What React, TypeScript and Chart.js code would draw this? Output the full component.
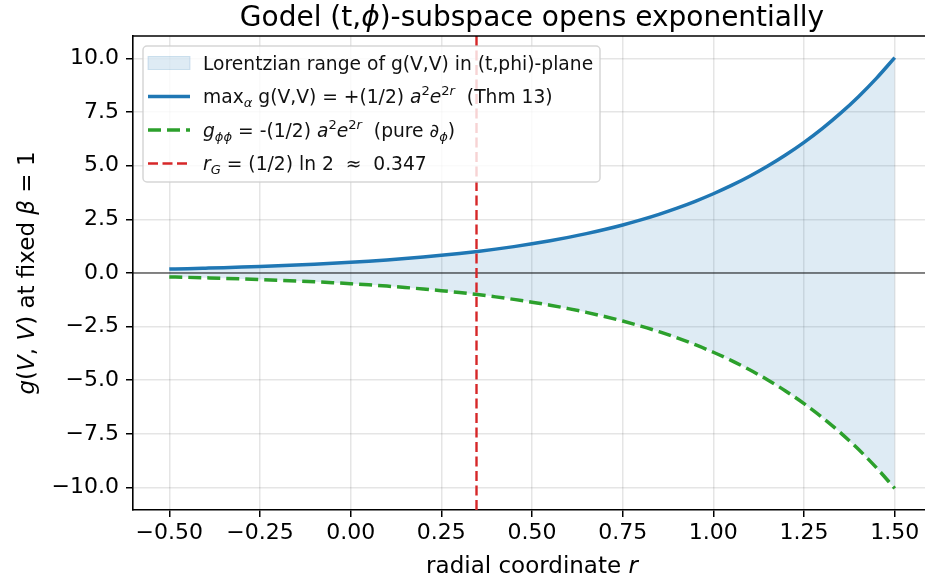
import React, { useEffect, useRef } from "react";
import { Chart, registerables } from "chart.js";

Chart.register(...registerables);

// ---- data ----
const R_VALUES = [
  -0.5, -0.45, -0.4, -0.35, -0.3, -0.25, -0.2, -0.15, -0.1, -0.05,
  0.0, 0.05, 0.1, 0.15, 0.2, 0.25, 0.3, 0.35, 0.4, 0.45,
  0.5, 0.55, 0.6, 0.65, 0.7, 0.75, 0.8, 0.85, 0.9, 0.95,
  1.0, 1.05, 1.1, 1.15, 1.2, 1.25, 1.3, 1.35, 1.4, 1.45, 1.5,
];
const G_MAX = [
  0.184, 0.203, 0.225, 0.248, 0.274, 0.303, 0.335, 0.37, 0.409, 0.452,
  0.5, 0.553, 0.611, 0.675, 0.746, 0.824, 0.911, 1.007, 1.113, 1.23,
  1.359, 1.502, 1.66, 1.834, 2.028, 2.241, 2.477, 2.737, 3.025, 3.343,
  3.695, 4.083, 4.513, 4.987, 5.512, 6.091, 6.732, 7.44, 8.222, 9.087, 10.043,
];
const G_PHIPHI = [
  -0.184, -0.203, -0.225, -0.248, -0.274, -0.303, -0.335, -0.37, -0.409, -0.452,
  -0.5, -0.553, -0.611, -0.675, -0.746, -0.824, -0.911, -1.007, -1.113, -1.23,
  -1.359, -1.502, -1.66, -1.834, -2.028, -2.241, -2.477, -2.737, -3.025, -3.343,
  -3.695, -4.083, -4.513, -4.987, -5.512, -6.091, -6.732, -7.44, -8.222, -9.087, -10.043,
];
const R_G = 0.347;
const X_TICKS = [-0.5, -0.25, 0, 0.25, 0.5, 0.75, 1.0, 1.25, 1.5];
const Y_TICKS = [-10, -7.5, -5, -2.5, 0, 2.5, 5, 7.5, 10];
const X_MIN = -0.6;
const X_MAX = 1.6;
const Y_MIN = -11.05;
const Y_MAX = 11.05;

const FAMILY = '"DejaVu Sans"';

type Seg = { t: string; it?: boolean; sub?: boolean; sup?: boolean };

const TITLE: Seg[] = [
  { t: "Godel (t," },
  { t: "ϕ", it: true },
  { t: ")-subspace opens exponentially" },
];
const X_LABEL: Seg[] = [{ t: "radial coordinate " }, { t: "r", it: true }];
const Y_LABEL: Seg[] = [
  { t: "g", it: true },
  { t: "(" },
  { t: "V", it: true },
  { t: ", " },
  { t: "V", it: true },
  { t: ")" },
  { t: " at fixed " },
  { t: "β", it: true },
  { t: " = 1" },
];
const LEGEND_ROWS: Seg[][] = [
  [{ t: "Lorentzian range of g(V,V) in (t,phi)-plane" }],
  [
    { t: "max" },
    { t: "α", it: true, sub: true },
    { t: " g(V,V) = +(1/2) " },
    { t: "a", it: true },
    { t: "2", sup: true },
    { t: "e", it: true },
    { t: "2", sup: true },
    { t: "r", it: true, sup: true },
    { t: "  (Thm 13)" },
  ],
  [
    { t: "g", it: true },
    { t: "ϕϕ", it: true, sub: true },
    { t: " = -(1/2) " },
    { t: "a", it: true },
    { t: "2", sup: true },
    { t: "e", it: true },
    { t: "2", sup: true },
    { t: "r", it: true, sup: true },
    { t: "  (pure " },
    { t: "∂", it: true },
    { t: "ϕ", it: true, sub: true },
    { t: ")" },
  ],
  [
    { t: "r", it: true },
    { t: "G", it: true, sub: true },
    { t: " = (1/2) ln 2  ≈  0.347" },
  ],
];

function segFont(seg: Seg, size: number) {
  const s = seg.sub || seg.sup ? size * 0.7 : size;
  return `${seg.it ? "italic " : ""}${s}px ${FAMILY}`;
}

function richWidth(ctx: CanvasRenderingContext2D, segs: Seg[], size: number) {
  let w = 0;
  for (const seg of segs) {
    ctx.font = segFont(seg, size);
    w += ctx.measureText(seg.t).width;
  }
  return w;
}

function drawRich(
  ctx: CanvasRenderingContext2D,
  segs: Seg[],
  x: number,
  y: number,
  size: number,
  align: "left" | "center",
  color = "#000"
) {
  const w = richWidth(ctx, segs, size);
  let cx = align === "center" ? x - w / 2 : x;
  ctx.save();
  ctx.fillStyle = color;
  ctx.textBaseline = "alphabetic";
  ctx.textAlign = "left";
  for (const seg of segs) {
    ctx.font = segFont(seg, size);
    const dy = seg.sub ? size * 0.22 : seg.sup ? -size * 0.42 : 0;
    ctx.fillText(seg.t, cx, y + dy);
    cx += ctx.measureText(seg.t).width;
  }
  ctx.restore();
}

function fmt(v: number, d: number) {
  const s = Math.abs(v).toFixed(d);
  return v < 0 ? "\u2212" + s : s;
}

const decorPlugin = {
  id: "decor",
  afterDatasetsDraw(chart: any) {
    const ctx: CanvasRenderingContext2D = chart.ctx;
    const { left, right, top, bottom } = chart.chartArea;
    const xs = chart.scales.x;
    const ys = chart.scales.y;
    ctx.save();
    ctx.beginPath();
    ctx.rect(left, top, right - left, bottom - top);
    ctx.clip();
    // zero line
    const y0 = ys.getPixelForValue(0);
    ctx.strokeStyle = "rgba(0,0,0,0.6)";
    ctx.lineWidth = 1.6;
    ctx.beginPath();
    ctx.moveTo(left, y0);
    ctx.lineTo(right, y0);
    ctx.stroke();
    // r_G vertical line
    const xg = xs.getPixelForValue(R_G);
    ctx.strokeStyle = "#d62728";
    ctx.lineWidth = 2.4;
    ctx.setLineDash([10, 4.5]);
    ctx.beginPath();
    ctx.moveTo(xg, ys.getPixelForValue(Y_MAX));
    ctx.lineTo(xg, ys.getPixelForValue(Y_MIN));
    ctx.stroke();
    ctx.restore();
    // top spine
    ctx.save();
    ctx.strokeStyle = "#000";
    ctx.lineWidth = 1.6;
    ctx.beginPath();
    ctx.moveTo(left - 0.8, top);
    ctx.lineTo(right + 1, top);
    ctx.stroke();
    ctx.restore();
  },
  afterDraw(chart: any) {
    const ctx: CanvasRenderingContext2D = chart.ctx;
    const { left, right, top, bottom } = chart.chartArea;
    // title
    drawRich(ctx, TITLE, (left + right) / 2, 26, 28, "center");
    // x label
    drawRich(ctx, X_LABEL, (left + right) / 2, 573, 23, "center");
    // y label
    ctx.save();
    ctx.translate(34, (top + bottom) / 2);
    ctx.rotate(-Math.PI / 2);
    drawRich(ctx, Y_LABEL, 0, 0, 23, "center");
    ctx.restore();

    // legend
    const bx = 143, by = 46, bw = 457, bh = 136;
    ctx.save();
    ctx.fillStyle = "rgba(255,255,255,0.8)";
    ctx.strokeStyle = "rgba(204,204,204,0.8)";
    ctx.lineWidth = 1.5;
    ctx.beginPath();
    (ctx as any).roundRect(bx, by, bw, bh, 4);
    ctx.fill();
    ctx.stroke();
    const rows = [63, 96.5, 130, 163.5];
    const hx0 = 148, hx1 = 190;
    // patch
    ctx.fillStyle = "rgba(31,119,180,0.15)";
    ctx.strokeStyle = "rgba(31,119,180,0.18)";
    ctx.lineWidth = 1;
    ctx.fillRect(hx0, rows[0] - 6.5, hx1 - hx0, 13);
    ctx.strokeRect(hx0, rows[0] - 6.5, hx1 - hx0, 13);
    // blue line
    ctx.strokeStyle = "#1f77b4";
    ctx.lineWidth = 3.5;
    ctx.beginPath();
    ctx.moveTo(hx0, rows[1]);
    ctx.lineTo(hx1, rows[1]);
    ctx.stroke();
    // green dashed
    ctx.strokeStyle = "#2ca02c";
    ctx.setLineDash([13, 6]);
    ctx.beginPath();
    ctx.moveTo(hx0, rows[2]);
    ctx.lineTo(hx1, rows[2]);
    ctx.stroke();
    // red dashed
    ctx.strokeStyle = "#d62728";
    ctx.lineWidth = 2.4;
    ctx.setLineDash([10, 4.5]);
    ctx.beginPath();
    ctx.moveTo(hx0, rows[3]);
    ctx.lineTo(hx1, rows[3]);
    ctx.stroke();
    ctx.setLineDash([]);
    ctx.restore();
    LEGEND_ROWS.forEach((segs, i) => {
      drawRich(ctx, segs, 203, rows[i] + 6.8, 18.7, "left", "#111");
    });
  },
};

export default function App() {
  const ref = useRef<HTMLCanvasElement | null>(null);
  useEffect(() => {
    if (!ref.current) return;
    const chart = new Chart(ref.current, {
      type: "line",
      data: {
        datasets: [
          {
            data: R_VALUES.map((x, i) => ({ x, y: G_MAX[i] })),
            borderColor: "#1f77b4",
            borderWidth: 3.5,
            pointRadius: 0,
            cubicInterpolationMode: "monotone",
            fill: "+1",
            backgroundColor: "rgba(31,119,180,0.15)",
          },
          {
            data: R_VALUES.map((x, i) => ({ x, y: G_PHIPHI[i] })),
            borderColor: "#2ca02c",
            borderWidth: 3.5,
            borderDash: [13, 6],
            pointRadius: 0,
            cubicInterpolationMode: "monotone",
            fill: false,
          },
        ],
      },
      options: {
        animation: false,
        responsive: true,
        maintainAspectRatio: false,
        events: [],
        layout: { padding: { top: 36, right: 5, left: 0, bottom: 0 } },
        plugins: {
          legend: { display: false },
          title: { display: false },
          tooltip: { enabled: false },
          filler: { drawTime: "beforeDatasetsDraw" },
        } as any,
        scales: {
          x: {
            type: "linear",
            min: X_MIN,
            max: X_MAX,
            afterBuildTicks: (s: any) => {
              s.ticks = X_TICKS.map((v) => ({ value: v }));
            },
            afterFit: (s: any) => {
              s.height = 72;
            },
            ticks: {
              callback: (v: any) => fmt(Number(v), 2),
              font: { family: FAMILY, size: 22 },
              color: "#000",
              padding: 3,
              maxRotation: 0,
              autoSkip: false,
            },
            grid: {
              color: "rgba(0,0,0,0.1)",
              lineWidth: 1.5,
              tickColor: "#000",
              tickLength: 7,
              tickWidth: 1.5,
            },
            border: { color: "#000", width: 1.6 },
          },
          y: {
            type: "linear",
            min: Y_MIN,
            max: Y_MAX,
            afterBuildTicks: (s: any) => {
              s.ticks = Y_TICKS.map((v) => ({ value: v }));
            },
            afterFit: (s: any) => {
              s.width = 133;
            },
            ticks: {
              callback: (v: any) => fmt(Number(v), 1),
              font: { family: FAMILY, size: 22 },
              color: "#000",
              padding: 7,
              autoSkip: false,
            },
            grid: {
              color: "rgba(0,0,0,0.1)",
              lineWidth: 1.5,
              tickColor: "#000",
              tickLength: 7,
              tickWidth: 1.5,
            },
            border: { color: "#000", width: 1.6 },
          },
        },
      } as any,
      plugins: [decorPlugin],
    });
    return () => chart.destroy();
  }, []);
  return (
    <div
      style={{
        position: "fixed",
        left: 0,
        top: 0,
        width: 925,
        height: 582,
        overflow: "hidden",
        background: "#fff",
      }}
    >
      <div style={{ position: "relative", width: 936, height: 582 }}>
        <canvas ref={ref} />
      </div>
    </div>
  );
}
